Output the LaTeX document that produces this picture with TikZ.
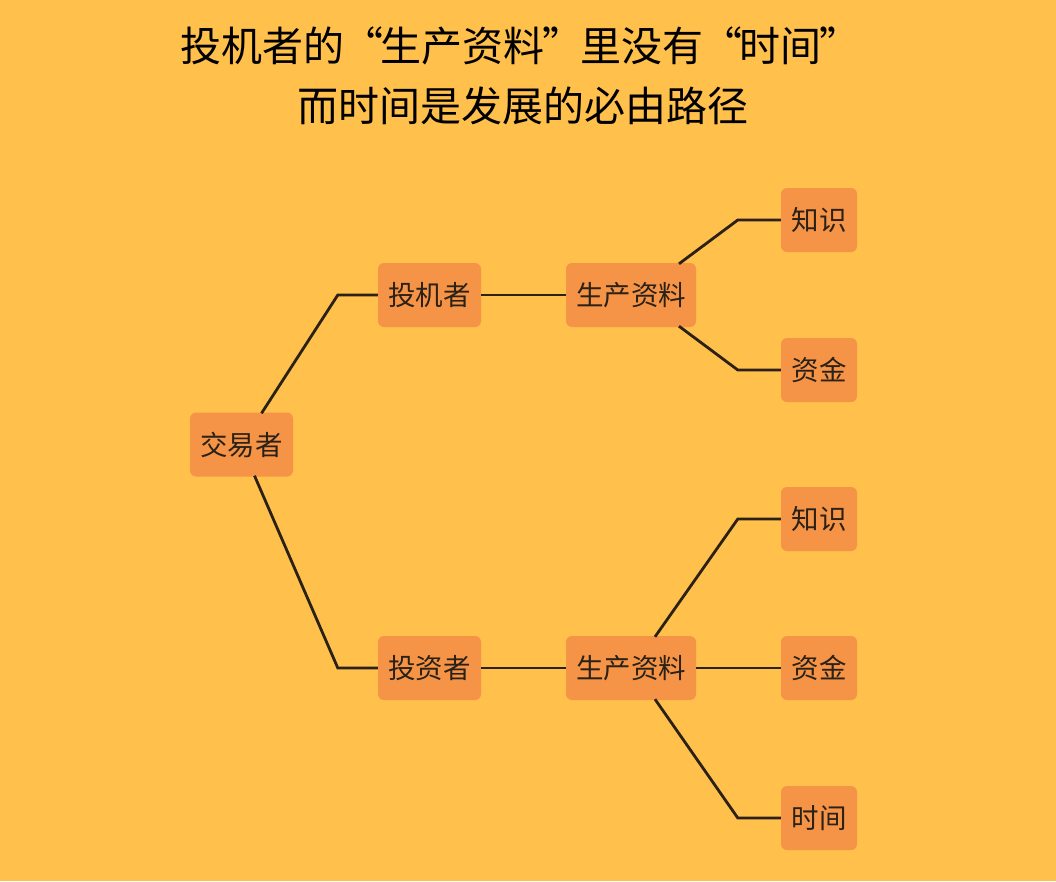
\documentclass[tikz,border=0pt]{standalone}
\usepackage{fontspec}
\newfontfamily\cjk{Noto Sans CJK SC}
\definecolor{bgcol}{HTML}{FFC04C}
\definecolor{boxcol}{HTML}{F59446}
\definecolor{inkcol}{HTML}{2B2116}
% tighter quotation marks in the heading
\newcommand{\openq}{\kern-2.5pt“\kern-2.5pt}
\newcommand{\closeq}{\kern-2.5pt”\kern-2.5pt}
\begin{document}
\begin{tikzpicture}[x=1pt,y=-1pt,
  box/.style={fill=boxcol,rounded corners=6pt,inner sep=0pt,minimum height=64pt,
    text=inkcol,font=\cjk\fontsize{27.5}{32}\selectfont},
  wide/.style={box,minimum width=130pt},
  mid/.style={box,minimum width=103pt},
  leaf/.style={box,minimum width=76pt},
  link/.style={draw=inkcol,line width=2.8pt,line join=miter},
  title/.style={text=black,font=\cjk\fontsize{41}{46}\selectfont,inner sep=0pt}]
\fill[bgcol] (0,0) rectangle (1056,881);
\useasboundingbox (0,0) rectangle (1056,881);

% title
\node[title] (t1) at (519,46) {投机者的\openq 生产资料\closeq 里没有\openq 时间\closeq};
\node[title] (t2) at (523,106) {而时间是发展的必由路径};

% nodes
\node[mid] (root) at (241.5,444.5) {交易者};
\node[mid] (spec) at (429.5,295) {投机者};
\node[wide] (specres) at (631,295) {生产资料};
\node[leaf] (sk) at (819,220) {知识};
\node[leaf] (sm) at (819,370) {资金};
\node[mid] (inv) at (429.5,668) {投资者};
\node[wide] (invres) at (631,668) {生产资料};
\node[leaf] (ik) at (819,519) {知识};
\node[leaf] (im) at (819,668) {资金};
\node[leaf] (it) at (819,818) {时间};

% connectors
\draw[link] ([xshift=20pt,yshift=-1pt]root.north) -- ([xshift=-40pt]spec.west) -- (spec.west);
\draw[link] ([xshift=13pt,yshift=1pt]root.south) -- ([xshift=-40pt]inv.west) -- (inv.west);
\draw[link] (spec.east) -- (specres.west);
\draw[link] (inv.east) -- (invres.west);
\draw[link] ([xshift=48pt,yshift=-1pt]specres.north) -- ([xshift=-43pt]sk.west) -- (sk.west);
\draw[link] ([xshift=48pt,yshift=1pt]specres.south) -- ([xshift=-43pt]sm.west) -- (sm.west);
\draw[link] ([xshift=24pt,yshift=-1pt]invres.north) -- ([xshift=-43pt]ik.west) -- (ik.west);
\draw[link] (invres.east) -- (im.west);
\draw[link] ([xshift=24pt,yshift=1pt]invres.south) -- ([xshift=-43pt]it.west) -- (it.west);
\end{tikzpicture}
\end{document}
